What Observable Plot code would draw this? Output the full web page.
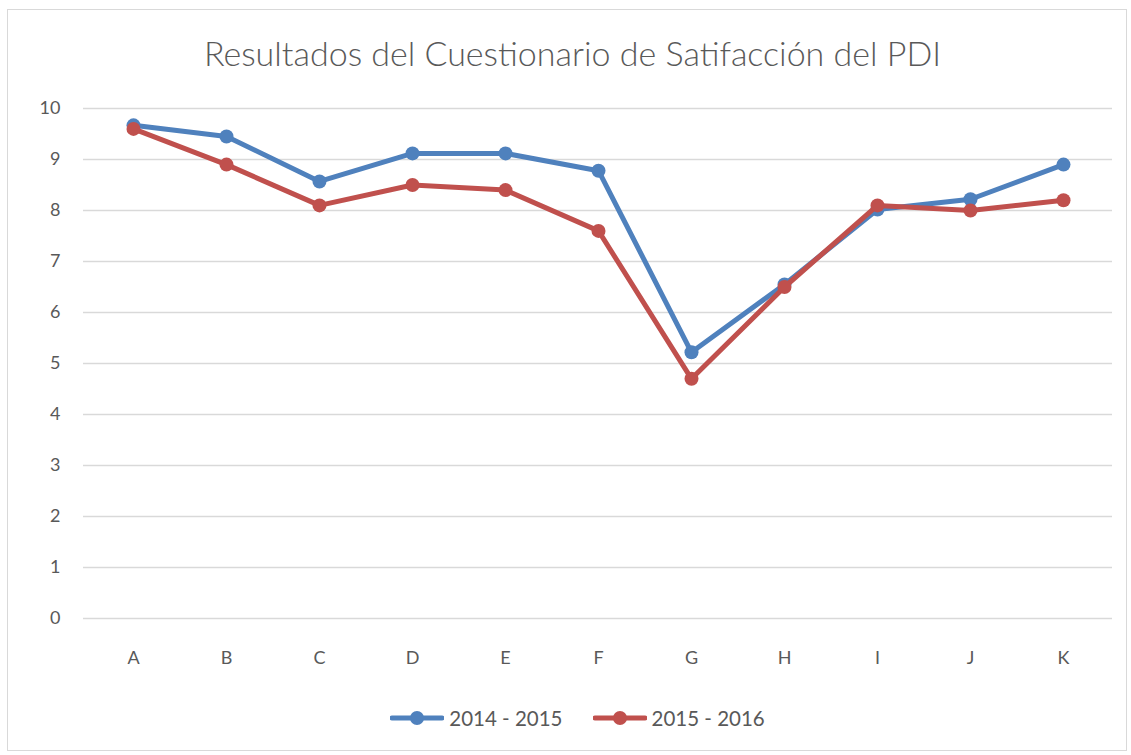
<!DOCTYPE html>
<html>
<head>
<meta charset="utf-8">
<script src="https://cdn.jsdelivr.net/npm/d3@7"></script>
<script src="https://cdn.jsdelivr.net/npm/@observablehq/plot@0.6"></script>
<style>
  html, body { margin: 0; padding: 0; background: #fff; }
  body { width: 1131px; height: 755px; position: relative; overflow: hidden; font-family: Lato, "Open Sans", sans-serif; }
  #frame { position: absolute; left: 7px; top: 9px; width: 1120px; height: 742px; border: 1.5px solid #d9d9d9; box-sizing: border-box; }
  #title { position: absolute; left: 0; width: 1145px; top: 32px; text-align: center; font-size: 34px; font-weight: 300; color: #595959; }
  #chart { position: absolute; left: 0; top: 0; }
  #legend { position: absolute; left: 0; width: 1155px; top: 706px; display: flex; justify-content: center; gap: 30px; font-size: 20.5px; color: #595959; }
  .item { display: flex; align-items: center; gap: 5px; }
</style>
</head>
<body>
<div id="frame"></div>
<div id="chart"></div>
<div id="title">Resultados del Cuestionario de Satifacción del PDI</div>
<div id="legend"></div>
<script>
const categories = ["A", "B", "C", "D", "E", "F", "G", "H", "I", "J", "K"];
const values2014 = [9.67, 9.45, 8.57, 9.12, 9.12, 8.78, 5.22, 6.55, 8.02, 8.22, 8.9];
const values2015 = [9.6, 8.9, 8.1, 8.5, 8.4, 7.6, 4.7, 6.5, 8.1, 8.0, 8.2];
const seriesNames = ["2014 - 2015", "2015 - 2016"];
const seriesColors = ["#4F81BD", "#C0504D"];
const yTicks = [0, 1, 2, 3, 4, 5, 6, 7, 8, 9, 10];

const seriesValues = [values2014, values2015];
const seriesData = seriesValues.map((vals, s) =>
  categories.map((c, i) => ({ cat: c, value: vals[i], series: seriesNames[s] }))
);

const seriesMarks = seriesData.flatMap(d => [
  Plot.lineY(d, { x: "cat", y: "value", stroke: "series", strokeWidth: 5 }),
  Plot.dot(d, { x: "cat", y: "value", fill: "series", r: 7 })
]);

const chart = Plot.plot({
  width: 1131,
  height: 680,
  marginLeft: 83,
  marginRight: 19,
  marginTop: 108,
  marginBottom: 62,
  x: { type: "point", domain: categories, padding: 0.5, label: null },
  y: { domain: [0, 10], label: null },
  color: { domain: seriesNames, range: seriesColors },
  style: { fontFamily: "Lato, 'Open Sans', sans-serif", fontSize: "18px", color: "#595959", background: "transparent" },
  marks: [
    Plot.gridY(yTicks, { stroke: "#d9d9d9", strokeOpacity: 1, strokeWidth: 1.5 }),
    Plot.axisY({ ticks: yTicks, tickSize: 0, tickPadding: 23, label: null, fill: "#595959" }),
    Plot.axisX({ tickSize: 0, tickPadding: 33, label: null, fill: "#595959" }),
    ...seriesMarks
  ]
});
document.getElementById("chart").appendChild(chart);

const legend = document.getElementById("legend");
seriesNames.forEach((name, i) => {
  const item = document.createElement("div");
  item.className = "item";
  item.innerHTML = `<svg width="54" height="16"><line x1="2" x2="52" y1="8" y2="8" stroke="${seriesColors[i]}" stroke-width="5" stroke-linecap="round"/><circle cx="27" cy="8" r="7" fill="${seriesColors[i]}"/></svg><span>${name}</span>`;
  legend.appendChild(item);
});
</script>
</body>
</html>
